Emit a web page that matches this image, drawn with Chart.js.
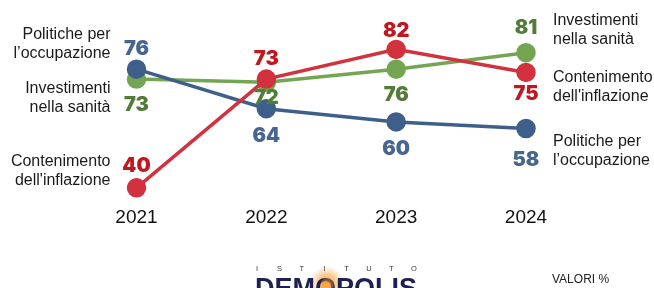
<!DOCTYPE html>
<html>
<head>
<meta charset="utf-8">
<script src="https://cdn.jsdelivr.net/npm/chart.js@4.4.0/dist/chart.umd.min.js"></script>
<style>
  body { margin: 0; background: #fff; }
  canvas { display: block; }
</style>
</head>
<body>
<canvas id="grafico" width="654" height="288"></canvas>
<script>
// Dati del grafico (valori %)
const anni = ['2021', '2022', '2023', '2024'];
const occupazione = [76, 64, 60, 58];
const sanita = [73, 72, 76, 81];
const inflazione = [40, 73, 82, 75];

// spostamento verticale delle etichette numeriche rispetto al punto
const offOccupazione = [-20, 27, 27, 31];
const offSanita = [26, 16, 26, -25];
const offInflazione = [-22, -20, -18, 22];

const BLU = '#3f5f8b', VERDE = '#74a553', ROSSO = '#d1323e';

const etichette = {
    id: 'etichette',
    afterDatasetsDraw(chart) {
        const ctx = chart.ctx;
        const area = chart.chartArea;
        chart.data.datasets.forEach((ds, i) => {
            const meta = chart.getDatasetMeta(i);
            ctx.save();
            ctx.font = '900 20px Inter, "DejaVu Sans", sans-serif';
            ctx.fillStyle = ds.coloreEtichetta;
            ctx.textAlign = 'center';
            ctx.textBaseline = 'middle';
            meta.data.forEach((pt, j) => {
                ctx.fillText(ds.data[j], pt.x, pt.y + ds.spostamenti[j]);
            });
            ctx.restore();
        });

        // nomi delle serie a sinistra e a destra
        ctx.save();
        ctx.font = '16px "Liberation Sans", Arial, sans-serif';
        ctx.fillStyle = '#1a1a1a';
        ctx.textBaseline = 'middle';
        const sx = area.left - 26, dx = area.right + 27;
        ctx.textAlign = 'right';
        [['Politiche per', 'l’occupazione', 35], ['Investimenti', 'nella sanità', 89], ['Contenimento', "dell'inflazione", 162]]
            .forEach(r => { ctx.fillText(r[0], sx, r[2]); ctx.fillText(r[1], sx, r[2] + 18.5); });
        ctx.textAlign = 'left';
        [['Investimenti', 'nella sanità', 21], ['Contenimento', "dell'inflazione", 78], ['Politiche per', 'l’occupazione', 142]]
            .forEach(r => { ctx.fillText(r[0], dx, r[2]); ctx.fillText(r[1], dx, r[2] + 18.5); });
        ctx.restore();
    },
    afterDraw(chart) {
        const ctx = chart.ctx;
        ctx.save();
        // logo Demopolis
        const g = ctx.createRadialGradient(327, 283, 0, 327, 283, 17);
        g.addColorStop(0, 'rgba(250,170,50,0.95)');
        g.addColorStop(0.5, 'rgba(245,160,60,0.55)');
        g.addColorStop(1, 'rgba(245,170,80,0)');
        ctx.fillStyle = g;
        ctx.beginPath(); ctx.arc(327, 283, 17, 0, Math.PI * 2); ctx.fill();

        ctx.font = '7.5px "Liberation Sans", Arial, sans-serif';
        ctx.fillStyle = '#333';
        ctx.textAlign = 'center';
        ctx.textBaseline = 'middle';
        'ISTITUTO'.split('').forEach((c, k) => ctx.fillText(c, 257 + k * 22.4, 269));

        ctx.font = 'bold 27px "Liberation Sans", Arial, sans-serif';
        ctx.fillStyle = '#1d2050';
        ctx.textAlign = 'left';
        ctx.textBaseline = 'alphabetic';
        ctx.fillText('DEMOPOLIS', 255, 297);

        const g2 = ctx.createRadialGradient(327, 285, 0, 327, 285, 7);
        g2.addColorStop(0, 'rgba(250,175,60,0.95)');
        g2.addColorStop(1, 'rgba(230,140,50,0.3)');
        ctx.fillStyle = g2;
        ctx.beginPath(); ctx.arc(327, 285, 7, 0, Math.PI * 2); ctx.fill();

        ctx.font = '12px "Liberation Sans", Arial, sans-serif';
        ctx.fillStyle = '#222';
        ctx.textBaseline = 'middle';
        ctx.fillText('VALORI %', 552, 280);
        ctx.restore();
    }
};

function serie(dati, colore, coloreEtichetta, spostamenti, ordine) {
    return {
        data: dati,
        borderColor: colore,
        backgroundColor: colore,
        pointBackgroundColor: colore,
        pointBorderColor: colore,
        borderWidth: 3.5,
        pointRadius: 8,
        pointHoverRadius: 8,
        tension: 0,
        clip: false,
        order: ordine,
        coloreEtichetta: coloreEtichetta,
        spostamenti: spostamenti
    };
}

new Chart(document.getElementById('grafico'), {
    type: 'line',
    data: {
        labels: anni,
        datasets: [
            serie(inflazione, ROSSO, '#c1171e', offInflazione, 0),
            serie(occupazione, BLU, '#46658f', offOccupazione, 1),
            serie(sanita, VERDE, '#527c38', offSanita, 2)
        ]
    },
    options: {
        responsive: false,
        animation: false,
        events: [],
        layout: { padding: { left: 136.5, right: 128, top: 10, bottom: 0 } },
        plugins: { legend: { display: false }, tooltip: { enabled: false } },
        scales: {
            y: { display: false, min: 36.3, max: 93.5 },
            x: {
                offset: false,
                grid: { display: false, drawTicks: false },
                border: { display: false },
                ticks: {
                    padding: 6,
                    color: '#111',
                    font: { family: '"Liberation Sans", Arial, sans-serif', size: 19 }
                },
                afterFit(scale) { scale.height = 88; }
            }
        }
    },
    plugins: [etichette]
});
</script>
</body>
</html>
